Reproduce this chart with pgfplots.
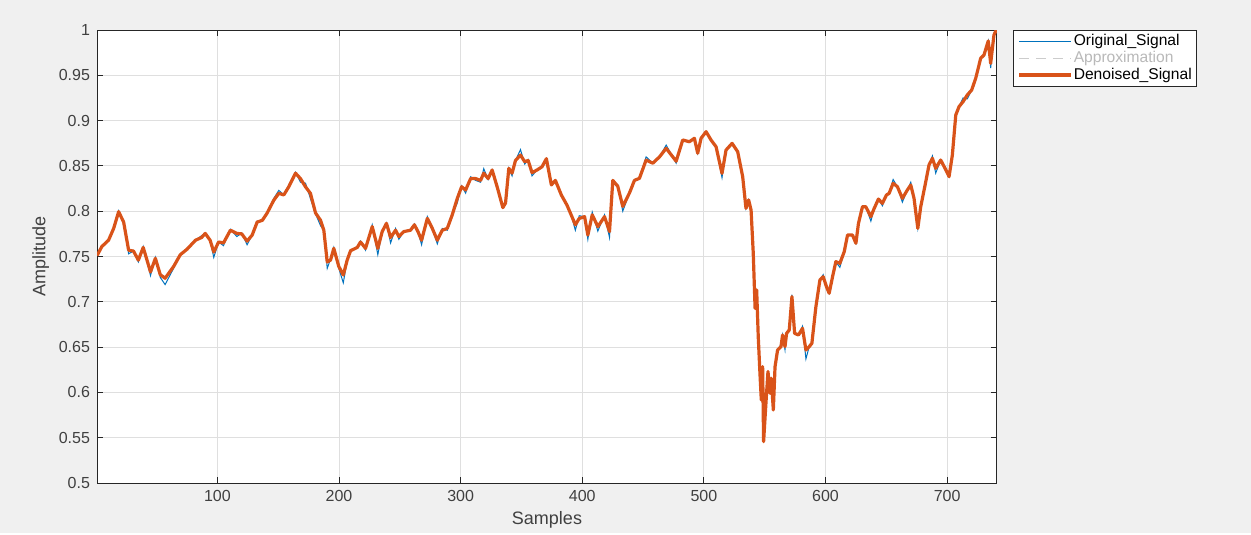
\documentclass[border=0pt]{standalone}
\usepackage{pgfplots}
\pgfplotsset{compat=1.18}
\usepackage{pgfplotstable}
\usepackage{fontspec}
\setmainfont{Liberation Sans}
\definecolor{mblue}{RGB}{0,114,189}
\definecolor{morange}{RGB}{217,83,25}
\definecolor{bg}{RGB}{240,240,240}
\definecolor{axcol}{RGB}{38,38,38}
\definecolor{tickc}{RGB}{64,64,64}
\definecolor{gridc}{RGB}{223,223,223}

\pgfplotstableread{
x orig den
1 0.751 0.751
5 0.761 0.761
10.5 0.768 0.768
14.7 0.781 0.781
18.8 0.8005 0.7995
22.9 0.788 0.788
27 0.753 0.757
31 0.756 0.756
35 0.744 0.746
39 0.761 0.760
45 0.729 0.733
49 0.749 0.748
53 0.727 0.730
57 0.719 0.726
64 0.737 0.739
69.5 0.752 0.752
75 0.758 0.758
82 0.768 0.768
87 0.773 0.771
90 0.7755 0.7755
94 0.768 0.768
97 0.749 0.755
101 0.766 0.766
105 0.762 0.765
110.7 0.780 0.779
116 0.772 0.7755
120 0.776 0.775
124.4 0.763 0.767
128.6 0.7737 0.7737
132.7 0.789 0.788
137 0.790 0.790
140.9 0.798 0.798
146.3 0.814 0.812
150.5 0.823 0.8197
154.6 0.818 0.818
158.7 0.829 0.827
164.2 0.843 0.842
168.3 0.832 0.836
172.4 0.831 0.827
176.5 0.814 0.8197
180.7 0.797 0.798
184.8 0.784 0.790
187.5 0.779 0.779
190.3 0.737 0.744
193 0.747 0.746
195.7 0.760 0.759
199.8 0.737 0.739
203.5 0.721 0.7296
206.7 0.745 0.746
209.5 0.7564 0.7564
215 0.761 0.760
217.7 0.767 0.766
221.8 0.757 0.759
227.3 0.785 0.783
231.9 0.752 0.759
235.5 0.7775 0.7775
239 0.787 0.7866
242.4 0.765 0.771
246.5 0.781 0.779
249.2 0.769 0.772
253.3 0.7775 0.7775
258.8 0.780 0.779
262 0.786 0.785
264.9 0.7775 0.7775
267.9 0.763 0.768
272.6 0.794 0.792
276.7 0.781 0.781
280.8 0.764 0.768
284.9 0.781 0.779
289 0.779 0.781
293.1 0.796 0.796
297.2 0.809 0.814
300.8 0.828 0.827
304.1 0.820 0.8234
308.2 0.838 0.836
312.3 0.834 0.836
316.4 0.832 0.834
319 0.847 0.842
322.6 0.835 0.836
325.9 0.8455 0.8455
330 0.827 0.827
334.7 0.804 0.804
336.9 0.809 0.809
339.6 0.8473 0.8473
342.3 0.839 0.842
345.1 0.856 0.856
349.2 0.868 0.862
352.7 0.852 0.8546
355.5 0.857 0.856
358.7 0.839 0.8425
362.8 0.8455 0.8455
366.9 0.850 0.849
370.5 0.858 0.858
374.6 0.829 0.829
377.9 0.834 0.834
382.8 0.8179 0.8179
387.4 0.8068 0.8068
391.5 0.793 0.794
394.3 0.779 0.785
397.5 0.795 0.792
401.9 0.794 0.794
404.6 0.769 0.7737
408.2 0.799 0.796
412.8 0.778 0.783
418.3 0.796 0.794
422.4 0.771 0.7775
425.1 0.834 0.834
429.2 0.829 0.8275
433.3 0.800 0.8053
438.8 0.8201 0.8201
442.9 0.835 0.834
447 0.8363 0.8363
452.5 0.860 0.8565
458 0.853 0.853
463.5 0.860 0.860
469 0.873 0.8694
477.2 0.853 0.8552
482.6 0.8786 0.8786
488.1 0.8767 0.8767
492.2 0.8805 0.8805
494.9 0.864 0.864
497.7 0.8805 0.8805
501.8 0.8878 0.8878
505.9 0.8786 0.8786
510 0.8712 0.8712
514.9 0.837 0.8418
518.2 0.8675 0.8675
523.2 0.8749 0.8749
527.8 0.866 0.8657
531.9 0.8382 0.8382
534.6 0.8032 0.8032
536.8 0.8124 0.8124
538.8 0.8013 0.8013
540.6 0.7535 0.7535
542.1 0.6928 0.6928
543.4 0.713 0.713
544.7 0.6615 0.6615
546.1 0.621 0.621
547.2 0.5916 0.5916
548.3 0.6284 0.6284
549.1 0.5456 0.5456
551.1 0.590 0.590
552.7 0.6231 0.6231
554.4 0.599 0.599
555.4 0.6156 0.6156
557.1 0.5806 0.5806
558.5 0.6284 0.6284
560.6 0.6468 0.6468
563.4 0.653 0.6505
564.7 0.6634 0.6634
566.7 0.647 0.6505
568 0.667 0.6652
570.2 0.6689 0.6689
572.4 0.708 0.7057
574.6 0.6652 0.6652
577.8 0.6634 0.6634
581.1 0.673 0.6707
583.9 0.637 0.6468
586.6 0.6505 0.6505
588.8 0.6542 0.6542
592.1 0.6946 0.6946
595.4 0.7241 0.7241
598.1 0.730 0.7277
600.8 0.7167 0.7167
603 0.7094 0.7094
605.8 0.7277 0.7277
608.5 0.7443 0.7443
611.8 0.738 0.7425
615.4 0.7553 0.7553
618.1 0.7737 0.7737
622.2 0.7737 0.7737
625 0.7646 0.7646
627.1 0.7866 0.7866
630.4 0.806 0.805
633.1 0.805 0.805
637.3 0.789 0.794
640 0.803 0.803
643.5 0.8134 0.8134
646.8 0.806 0.8087
650.1 0.8179 0.8179
652.3 0.8197 0.8197
655.6 0.835 0.8308
659.1 0.8271 0.8271
663.2 0.810 0.8142
667.3 0.8234 0.8234
670.1 0.832 0.8289
672.8 0.8142 0.8142
675.9 0.7811 0.7811
678.3 0.805 0.805
681.9 0.8289 0.8289
685.1 0.851 0.851
687.9 0.861 0.8584
690.6 0.842 0.8473
694.7 0.8565 0.8565
698.3 0.8473 0.8473
701.6 0.8382 0.8382
704.3 0.862 0.862
707.1 0.9062 0.9062
709.8 0.9154 0.9154
713.1 0.925 0.9209
716.6 0.924 0.9283
720.2 0.9338 0.9338
723.5 0.9467 0.9467
727.6 0.9688 0.9688
730.3 0.9724 0.9724
733.8 0.9879 0.9879
735.8 0.958 0.9632
738.5 0.9945 0.9945
740.4 1.0 1.0
}\sig

\begin{document}
\begin{tikzpicture}
\fill[bg] (0,0) rectangle (625.5pt,266.5pt);
\begin{axis}[
  at={(48.5pt,25pt)}, anchor=south west,
  scale only axis, width=450pt, height=226.5pt,
  xmin=1, xmax=741, ymin=0.5, ymax=1,
  xtick={100,200,300,400,500,600,700},
  ytick={0.5,0.55,0.6,0.65,0.7,0.75,0.8,0.85,0.9,0.95,1},
  /pgf/number format/assume math mode=true,
  yticklabel style={/pgf/number format/fixed,/pgf/number format/precision=2},
  xticklabel style={/pgf/number format/fixed},
  tick label style={font=\fontsize{8}{9}\selectfont, text=tickc},
  label style={font=\fontsize{9}{10}\selectfont, text=tickc},
  xlabel={Samples}, ylabel={Amplitude},
  xlabel style={yshift=2pt},
  ylabel style={yshift=-2pt},
  axis line style={axcol, line width=0.5pt},
  axis background/.style={fill=white},
  grid=major, major grid style={gridc, line width=0.5pt},
  tick align=inside, tick pos=both, major tick length=3pt,
  tick style={axcol, line width=0.5pt},
  legend style={at={(1.018,1)}, anchor=north west, draw=axcol, fill=white,
    font=\fontsize{7.8}{8.5}\selectfont, cells={anchor=west},
    nodes={inner sep=0.5pt, text height=5.8pt, text depth=1.8pt},
    inner xsep=2pt, inner ysep=1.2pt, row sep=-0.2pt},
  legend image code/.code={\draw[#1] (0pt,0pt) -- (26pt,0pt);},
]
\addplot[mblue, line width=0.5pt] table[x=x, y=orig]{\sig};
\addlegendentry{Original\_Signal}
\addlegendimage{color=gray!40, line width=0.5pt, dash pattern=on 5pt off 3.5pt}
\addlegendentry{\textcolor{gray!55}{Approximation}}
\addplot[morange, line width=1.6pt, line join=round] table[x=x, y=den]{\sig};
\addlegendentry{Denoised\_Signal}
\end{axis}
\end{tikzpicture}
\end{document}
